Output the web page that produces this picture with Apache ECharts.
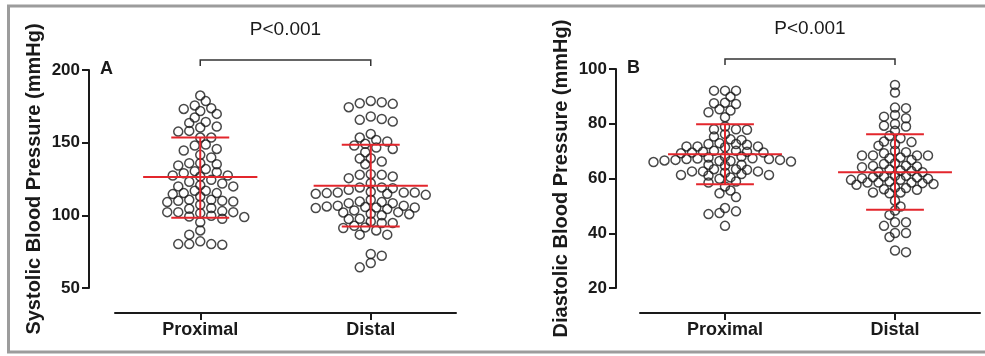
<!DOCTYPE html>
<html><head><meta charset="utf-8">
<script src="https://cdn.jsdelivr.net/npm/echarts@6/dist/echarts.min.js"></script>
<style>html,body{margin:0;padding:0;background:#fff}#c{width:985px;height:356px}</style>
</head><body><div id="c"></div>
<script>
// ---------- data ----------
const categories = ['Proximal', 'Distal'];
const systolicProximal = [182.4,178.6,175.6,173.7,173.2,171.8,169.8,167.3,164.3,163.6,161.1,160.4,158.1,157.6,153.5,153.5,148.7,148.0,145.7,144.6,141.6,139.8,135.9,135.2,134.3,135.9,131.8,130.4,129.0,129.7,127.4,126.7,127.4,124.4,123.1,120.8,119.9,121.9,119.9,116.9,116.9,115.3,115.3,114.6,113.0,110.7,110.0,109.1,109.5,110.0,110.7,107.3,105.0,104.5,102.9,102.2,101.5,99.7,98.8,99.2,102.2,102.2,97.6,95.3,89.6,86.7,82.1,80.2,79.8,80.2,80.2];
const systolicDistal = [178.7,177.1,174.4,176.7,177.8,168.0,165.7,164.5,166.3,156.0,151.9,153.5,150.8,148.0,145.7,143.4,146.6,149.2,139.1,135.2,137.0,139.3,127.9,127.9,126.7,128.3,125.6,122.1,118.7,117.6,119.2,119.2,115.7,115.3,114.8,115.7,114.1,114.8,115.7,116.2,110.7,109.5,108.4,109.1,106.6,105.4,105.4,108.4,105.0,105.7,106.1,106.6,103.4,102.0,102.2,104.3,101.1,100.0,100.8,97.4,94.7,94.7,95.8,97.6,91.7,89.6,91.3,92.8,86.7,86.7,73.4,72.2,67.2,64.2];
const diastolicProximal = [92.1,92.1,92.1,89.9,87.5,87.2,87.7,84.8,84.2,85.3,82.4,79.0,77.8,78.0,78.0,76.2,75.3,74.1,72.6,72.3,71.7,71.4,71.7,71.7,72.6,72.9,74.3,70.1,69.5,69.5,69.8,69.8,70.1,69.2,68.0,67.7,67.3,66.8,67.1,67.1,67.4,68.0,66.2,66.0,66.4,66.8,66.6,66.4,64.7,65.0,65.0,63.4,63.4,62.6,62.1,61.3,61.3,62.6,63.2,61.1,61.6,62.6,60.4,59.9,58.9,58.5,57.1,55.6,54.6,53.2,49.2,47.4,47.0,48.0,42.7];
const diastolicDistal = [94.2,91.4,85.9,85.7,83.2,82.0,82.6,79.9,79.0,79.3,77.4,75.6,74.7,73.3,72.0,72.6,73.5,69.6,68.4,68.4,67.7,67.4,68.4,68.4,69.2,70.1,66.8,65.3,64.7,64.4,64.1,64.6,65.6,63.3,62.7,62.3,62.9,62.4,61.0,60.4,59.9,59.5,59.5,60.1,60.7,60.5,61.0,58.5,58.5,58.9,58.3,58.0,56.7,55.9,54.9,54.6,54.9,56.1,56.5,57.7,58.5,51.9,49.8,48.3,46.7,44.0,42.7,44.0,40.1,38.6,40.1,33.1,33.7];
const systolicMean = [126.3, 120.3];
const systolicSdHigh = [153.5, 148.5];
const systolicSdLow = [98.3, 92.4];
const diastolicMean = [68.9, 62.3];
const diastolicSdHigh = [79.8, 76.2];
const diastolicSdLow = [57.9, 48.6];
const systolicTicks = [50, 100, 150, 200];
const diastolicTicks = [20, 40, 60, 80, 100];
const pValueText = 'P<0.001';
const panelLetters = ['A', 'B'];
const yTitles = ['Systolic Blood Pressure (mmHg)', 'Diastolic Blood Pressure (mmHg)'];

// ---------- chart ----------
const FONT = "'Liberation Sans', Arial, sans-serif";
const RED = '#e3262c';
const INK = '#1a1a1a';
const chart = echarts.init(document.getElementById('c'), null, {renderer: 'canvas'});

const panels = [
  {ticks: systolicTicks, mean: systolicMean, hi: systolicSdHigh, lo: systolicSdLow, groups: [systolicProximal, systolicDistal],
   grid: {left: 115, top: 70, width: 341, height: 218}, yOffset: 26, packD: 7.6},
  {ticks: diastolicTicks, mean: diastolicMean, hi: diastolicSdHigh, lo: diastolicSdLow, groups: [diastolicProximal, diastolicDistal],
   grid: {left: 640, top: 69, width: 340, height: 219}, yOffset: 24, packD: 6.8}
];

function errRender(params, api) {
  const x = api.value(0);
  const pm = api.coord([x, api.value(1)]);
  const pl = api.coord([x, api.value(2)]);
  const ph = api.coord([x, api.value(3)]);
  const hm = api.size([0.335, 0])[0];
  const hc = api.size([0.17, 0])[0];
  const style = {stroke: RED, lineWidth: 2};
  return {type: 'group', children: [
    {type: 'line', shape: {x1: pm[0] - hm, y1: pm[1], x2: pm[0] + hm, y2: pm[1]}, style},
    {type: 'line', shape: {x1: pl[0], y1: pl[1], x2: ph[0], y2: ph[1]}, style},
    {type: 'line', shape: {x1: ph[0] - hc, y1: ph[1], x2: ph[0] + hc, y2: ph[1]}, style},
    {type: 'line', shape: {x1: pl[0] - hc, y1: pl[1], x2: pl[0] + hc, y2: pl[1]}, style}
  ]};
}

function bracketRender(params, api) {
  const a = api.coord([api.value(0), api.value(2)]);
  const b = api.coord([api.value(1), api.value(2)]);
  const y = a[1] - 10;
  const st = {stroke: '#333', lineWidth: 1.5, fill: null};
  return {type: 'group', children: [
    {type: 'polyline', shape: {points: [[a[0], y + 6], [a[0], y], [b[0], y], [b[0], y + 6]]}, style: st},
    {type: 'text', style: {text: pValueText, x: (a[0] + b[0]) / 2, y: y - 30, align: 'center', verticalAlign: 'middle',
      font: '19px ' + FONT, fill: INK}}
  ]};
}

const grids = [], xAxes = [], yAxes = [], baseSeries = [], graphics = [];
panels.forEach((p, g) => {
  grids.push(Object.assign({containLabel: false}, p.grid));
  xAxes.push({type: 'value', gridIndex: g, min: 0.5, max: 2.5, offset: 25,
    axisLine: {show: true, lineStyle: {color: INK, width: 2}},
    axisTick: {show: true, length: 7, customValues: [1, 2], lineStyle: {color: INK, width: 2}},
    axisLabel: {show: true, customValues: [1, 2], margin: 8, formatter: v => categories[Math.round(v) - 1],
      fontFamily: FONT, fontWeight: 'bold', fontSize: 18, color: INK},
    splitLine: {show: false}});
  yAxes.push({type: 'value', gridIndex: g, min: p.ticks[0], max: p.ticks[p.ticks.length - 1],
    interval: p.ticks[1] - p.ticks[0], offset: p.yOffset,
    axisLine: {show: true, lineStyle: {color: INK, width: 2}},
    axisTick: {show: true, length: 7, lineStyle: {color: INK, width: 2}},
    axisLabel: {margin: 9, fontFamily: FONT, fontWeight: 'bold', fontSize: 17, color: INK},
    splitLine: {show: false},
    name: yTitles[g], nameLocation: 'middle', nameRotate: 90, nameGap: 45,
    nameTextStyle: {fontFamily: FONT, fontWeight: 'bold', fontSize: 20, color: INK}});
  baseSeries.push({type: 'custom', xAxisIndex: g, yAxisIndex: g, renderItem: errRender, z: 5, silent: true,
    data: categories.map((c, i) => [i + 1, p.mean[i], p.lo[i], p.hi[i]])});
  baseSeries.push({type: 'custom', xAxisIndex: g, yAxisIndex: g, renderItem: bracketRender, z: 4, silent: true, clip: false,
    data: [[1, 2, p.ticks[p.ticks.length - 1]]]});
  graphics.push({type: 'text', left: p.grid.left - p.yOffset + 11, top: p.grid.top - 10,
    style: {text: panelLetters[g], font: 'bold 18px ' + FONT, fill: INK}});
});
graphics.push({type: 'rect', shape: {x: 8.5, y: 6, width: 1000, height: 346}, style: {fill: null, stroke: '#9c9c9c', lineWidth: 3}, z: 100});

chart.setOption({
  animation: false, backgroundColor: '#fff',
  grid: grids, xAxis: xAxes, yAxis: yAxes, series: baseSeries, graphic: graphics
});

// beeswarm layout computed from the axis scales (balanced left/right)
function swarm(values, g, cat, D) {
  const step = 5.5;
  const unit = chart.convertToPixel({gridIndex: g}, [2, 0])[0] - chart.convertToPixel({gridIndex: g}, [1, 0])[0];
  const order = values.map((v, i) => i).sort((a, b) => values[b] - values[a]);
  const placed = [];
  const out = [];
  let left = 0, right = 0;
  order.forEach(i => {
    const py = chart.convertToPixel({gridIndex: g}, [cat, values[i]])[1];
    let dx = 0;
    for (let k = 0; k < 60; k++) {
      let cand;
      if (k === 0) cand = [0];
      else cand = right <= left ? [k * step, -k * step] : [-k * step, k * step];
      let found = null;
      for (const c of cand) {
        if (placed.every(q => (q.dx - c) ** 2 + (q.py - py) ** 2 >= D * D)) { found = c; break; }
      }
      if (found !== null) { dx = found; break; }
    }
    if (dx > 0) right++; else if (dx < 0) left++;
    placed.push({dx, py});
    out.push([cat + dx / unit, values[i]]);
  });
  return out;
}

const pointSeries = [];
panels.forEach((p, g) => {
  p.groups.forEach((vals, i) => {
    pointSeries.push({type: 'scatter', xAxisIndex: g, yAxisIndex: g, symbol: 'circle', symbolSize: 9, z: 3, silent: true,
      itemStyle: {color: 'rgba(255,255,255,0)', borderColor: INK, borderWidth: 1.5},
      data: swarm(vals, g, i + 1, p.packD)});
  });
});
chart.setOption({series: baseSeries.concat(pointSeries)});
</script>
</body></html>
